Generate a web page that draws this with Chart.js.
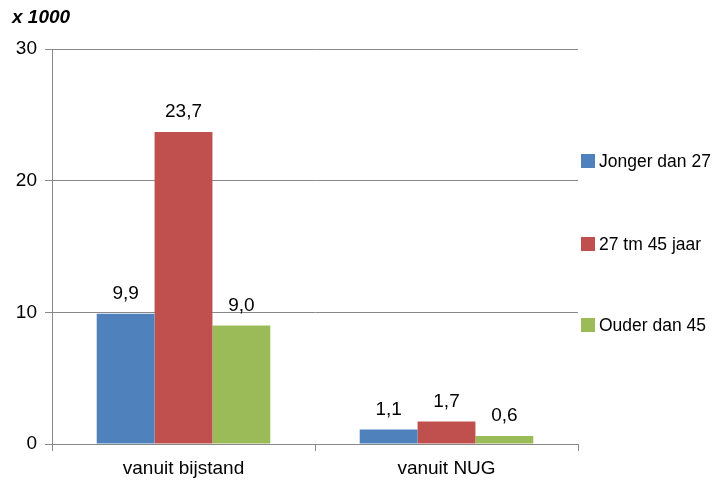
<!DOCTYPE html>
<html>
<head>
<meta charset="utf-8">
<script src="https://cdn.jsdelivr.net/npm/chart.js@4"></script>
<style>
  html, body { margin: 0; padding: 0; background: #fff; }
  #wrap { width: 723px; height: 484px; }
</style>
</head>
<body>
<div id="wrap"><canvas id="myChart"></canvas></div>
<script>
// data
const categories = ["vanuit bijstand", "vanuit NUG"]
const seriesNames = ["Jonger dan 27", "27 tm 45 jaar", "Ouder dan 45"]
const jonger = [9.9, 1.1]
const midden = [23.7, 1.7]
const ouder = [9.0, 0.6]
const yTicks = [0, 10, 20, 30]
const unitLabel = "x 1000"

const colors = ["#4F81BD", "#C0504D", "#9BBB59"]
const gridColor = "#888888"
const fontFamily = "'Liberation Sans', Arial, sans-serif"

// labels above the bars + legend + unit text
const extras = {
  id: "extras",
  afterDatasetsDraw(chart) {
    const ctx = chart.ctx
    ctx.save()
    ctx.fillStyle = "#000"
    ctx.font = "19px " + fontFamily
    ctx.textAlign = "center"
    ctx.textBaseline = "middle"
    chart.data.datasets.forEach((ds, i) => {
      chart.getDatasetMeta(i).data.forEach((bar, j) => {
        const txt = ds.data[j].toFixed(1).replace(".", ",")
        ctx.fillText(txt, bar.x, bar.y - 20)
      })
    })

    // legend
    const area = chart.chartArea
    const x0 = area.right + 3
    const rows = [161, 244, 325]
    ctx.textAlign = "left"
    ctx.font = "17.5px " + fontFamily
    chart.data.datasets.forEach((ds, i) => {
      ctx.fillStyle = ds.backgroundColor
      ctx.fillRect(x0, rows[i] - 7, 14, 14)
      ctx.fillStyle = "#000"
      ctx.fillText(ds.label, x0 + 18, rows[i] + 1)
    })

    // unit
    ctx.font = "italic bold 19px " + fontFamily
    ctx.fillText(unitLabel, 12, 18)
    ctx.restore()
  }
}

const ctx = document.getElementById("myChart").getContext("2d")
const myChart = new Chart(ctx, {
  type: "bar",
  data: {
    labels: categories,
    datasets: [
      { label: seriesNames[0], data: jonger, backgroundColor: colors[0] },
      { label: seriesNames[1], data: midden, backgroundColor: colors[1] },
      { label: seriesNames[2], data: ouder, backgroundColor: colors[2] }
    ]
  },
  options: {
    responsive: true,
    maintainAspectRatio: false,
    animation: false,
    layout: { padding: { top: 49, right: 145, left: 0, bottom: 0 } },
    datasets: { bar: { barPercentage: 1, categoryPercentage: 0.66 } },
    plugins: {
      legend: { display: false },
      tooltip: { enabled: false }
    },
    scales: {
      x: {
        afterFit: s => { s.height = 40 },
        grid: { display: true, drawOnChartArea: false, drawTicks: true, tickLength: 7, color: gridColor, offset: true },
        border: { display: true, color: gridColor, width: 1 },
        ticks: { color: "#000", font: { family: fontFamily, size: 19 }, padding: 6 }
      },
      y: {
        min: 0,
        max: 30,
        afterFit: s => { s.width = 52 },
        afterBuildTicks: s => { s.ticks = yTicks.map(v => ({ value: v })) },
        grid: { color: gridColor, tickLength: 7, drawTicks: true },
        border: { display: true, color: gridColor, width: 1 },
        ticks: { color: "#000", font: { family: fontFamily, size: 19 }, padding: 8 }
      }
    }
  },
  plugins: [extras]
})
</script>
</body>
</html>
